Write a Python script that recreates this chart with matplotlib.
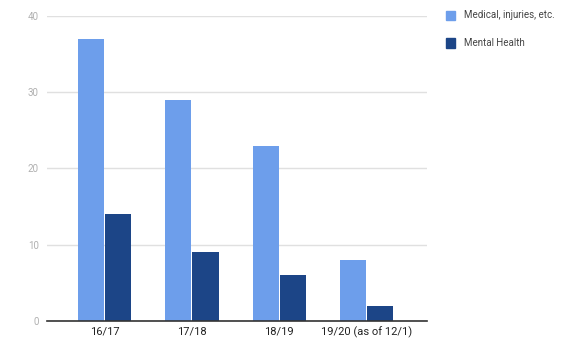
import matplotlib.pyplot as plt
from matplotlib.patches import Patch

plt.rcParams['font.family'] = ['Roboto', 'DejaVu Sans']

# data
years = ["16/17", "17/18", "18/19", "19/20 (as of 12/1)"]
medical = [37, 29, 23, 8]
mental = [14, 9, 6, 2]
series_names = ["Medical, injuries, etc.", "Mental Health"]
colors = ["#6d9eeb", "#1c4587"]

fig = plt.figure(figsize=(5.87, 3.45), dpi=100)
ax = fig.add_axes([0.080, 0.0696, 0.647, 0.884])

w = 0.3
x = list(range(len(years)))
ax.bar([i - w / 2 - 0.005 for i in x], medical, width=w, color=colors[0], zorder=3)
ax.bar([i + w / 2 + 0.005 for i in x], mental, width=w, color=colors[1], zorder=3)

ax.set_xlim(-0.66, 3.69)
ax.set_ylim(0, 40)
ax.set_yticks([0, 10, 20, 30, 40])
ax.set_xticks(x)
ax.set_xticklabels(years, fontsize=8, color="#222222")
ax.tick_params(axis='y', labelsize=7, colors="#b0b0b0", length=0, pad=6)
ax.tick_params(axis='x', length=0, pad=4)
ax.grid(axis='y', color="#e0e0e0", linewidth=1, zorder=0)
for s in ["top", "right", "left"]:
    ax.spines[s].set_visible(False)
ax.spines["bottom"].set_color("#333333")
ax.spines["bottom"].set_linewidth(1.2)
ax.spines["bottom"].set_zorder(4)

handles = [Patch(color=c) for c in colors]
fig.legend(handles, series_names, loc="upper left", bbox_to_anchor=(0.745, 0.995),
           frameon=False, fontsize=7, labelcolor="#444444", handlelength=0.9,
           handleheight=1.1, labelspacing=1.85, handletextpad=0.9)

fig.savefig("out.png", dpi=100)
